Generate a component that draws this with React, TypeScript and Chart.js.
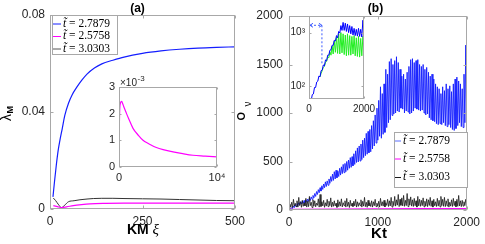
import React, { useEffect, useRef } from 'react';
import { Chart, registerables } from 'chart.js';
Chart.register(...registerables);

const W = 485;
const H = 244;

// ---------- Panel (a): lambda_M vs KM xi ----------
const aBlueX = [8, 12, 17, 22, 27, 33, 40, 50, 60, 72, 86, 100, 120, 140, 170, 200, 250, 300, 350, 400, 450, 500];
const aBlueY = [0.005, 0.011, 0.018, 0.024, 0.0284, 0.033, 0.0385, 0.0435, 0.047, 0.05, 0.053, 0.0555, 0.058, 0.0597, 0.0612, 0.0625, 0.064, 0.065, 0.0657, 0.0662, 0.0665, 0.0667];
const aBlackX = [9, 15, 22, 31, 40, 50, 65, 81, 100, 117, 140, 170, 200, 250, 300, 350, 400, 450, 500];
const aBlackY = [0.0045, 0.0035, 0.002, 0.0006, 0.0016, 0.003, 0.0034, 0.0038, 0.0041, 0.0043, 0.0044, 0.0044, 0.0043, 0.0042, 0.0041, 0.0039, 0.0037, 0.0035, 0.0034];
const aPinkX = [9, 20, 31, 45, 63, 85, 108, 150, 200, 300, 400, 500];
const aPinkY = [0.0014, 0.001, 0.0006, 0.0009, 0.0014, 0.0018, 0.0021, 0.0023, 0.0024, 0.0024, 0.0024, 0.0024];

// inset (a), y in units of 1e-3
const aInsetX = [0, 40, 80, 150, 272, 400, 550, 748, 1000, 1430, 2000, 2450, 3000, 3810, 4500, 5510, 6500, 7550, 8800, 10000];
const aInsetY = [0.63, 1.6, 2.2, 2.4, 2.46, 2.35, 2.2, 2.02, 1.8, 1.45, 1.18, 1.0, 0.88, 0.73, 0.65, 0.57, 0.5, 0.44, 0.41, 0.38];

// ---------- Panel (b): O_nu vs Kt ----------
const bStep = 20; // lows at 0,20,...; highs half a step later
const bBlueLow = [
  0, 8, 15, 25, 35, 45, 55, 62, 68, 74,
  80, 88, 98, 110, 125, 140, 160, 178, 195, 212,
  230, 242, 255, 275, 295, 305, 320, 332, 345, 360,
  375, 385, 395, 410, 430, 440, 455, 470, 490, 495,
  505, 520, 540, 560, 575, 590, 600, 630, 660, 690,
  720, 760, 740, 780, 800, 850, 900, 930, 975, 990,
  1000, 1020, 1010, 1050, 1040, 1000, 1020, 1010, 990, 1000,
  1020, 1050, 1040, 1030, 1020, 1030, 1000, 980, 990, 950,
  930, 920, 910, 890, 880, 890, 880, 900, 870, 860,
  880, 850, 830, 820, 840, 870, 900, 860, 850, 900,
  920,
];
const bBlueHigh = [
  12, 25, 40, 55, 65, 75, 85, 92, 98, 105,
  112, 122, 135, 150, 170, 190, 210, 230, 250, 268,
  290, 300, 320, 345, 370, 395, 410, 400, 430, 445,
  470, 480, 500, 515, 540, 550, 580, 610, 640, 660,
  680, 720, 740, 790, 810, 830, 870, 920, 980, 1050,
  1130, 1270, 1200, 1300, 1450, 1400, 1530, 1560, 1500, 1540,
  1580, 1520, 1450, 1380, 1400, 1350, 1420, 1480, 1550, 1560,
  1520, 1540, 1550, 1500, 1480, 1500, 1450, 1470, 1420, 1380,
  1400, 1350, 1300, 1270, 1250, 1200, 1270, 1230, 1300, 1250,
  1280, 1220, 1300, 1350, 1370, 1330, 1300, 1250, 1400, 1700,
];
const bBlackLow = [
  5, 30, 25, 40, 35, 30, 45, 28, 38, 42,
  30, 35, 45, 25, 40, 33, 48, 30, 36, 42,
  28, 40, 35, 45, 30, 38, 42, 27, 35, 40,
  32, 45, 30, 38, 26, 40, 35, 43, 30, 37,
  45, 30, 40, 35, 28, 42, 36, 30, 44, 35,
  38, 30, 45, 40, 32, 47, 36, 42, 30, 45,
  40, 50, 35, 48, 42, 38, 45, 35, 50, 40,
  36, 44, 30, 42, 38, 45, 33, 40, 35, 47,
  38, 30, 44, 36, 40, 32, 45, 38, 35, 42,
  30, 40, 36, 45, 33, 38, 42, 35, 40, 46,
  50,
];
const bBlackHigh = [
  60, 80, 110, 70, 95, 130, 85, 100, 75, 120,
  90, 140, 80, 105, 95, 70, 115, 160, 85, 100,
  75, 110, 90, 125, 80, 95, 70, 105, 85, 115,
  75, 95, 120, 80, 100, 70, 90, 110, 85, 75,
  105, 90, 130, 80, 100, 75, 95, 85, 110, 70,
  90, 120, 85, 100, 75, 110, 95, 130, 90, 140,
  105, 160, 110, 125, 150, 100, 170, 115, 135, 105,
  120, 95, 140, 110, 100, 125, 90, 115, 105, 130,
  95, 110, 85, 120, 100, 140, 110, 130, 95, 115,
  80, 105, 120, 90, 110, 150, 95, 100, 85, 110,
];
const bPinkX = [0, 500, 1000, 1500, 2000];
const bPinkY = [5, 8, 10, 12, 14];

// inset (b), log scale
const bInStep = 80;
const bInBlueLow = [45, 55, 72, 95, 125, 150, 200, 240, 300, 380, 480, 580, 700, 800, 980, 1100, 1100, 1050, 1000, 950, 900, 880, 860, 850, 830, 900];
const bInBlueHigh = [55, 70, 95, 120, 155, 195, 250, 310, 380, 470, 580, 720, 880, 1050, 1350, 1550, 1500, 1450, 1350, 1300, 1200, 1150, 1200, 1150, 1700];
const bInGreenStart = 400;
const bInGreenLow = [150, 195, 235, 290, 340, 380, 400, 430, 410, 400, 420, 390, 370, 380, 380, 400, 370, 360, 350, 370, 420];
const bInGreenHigh = [175, 225, 280, 350, 440, 560, 700, 820, 950, 1000, 950, 900, 950, 880, 850, 880, 800, 850, 780, 850];
// dashed double arrow annotation (data units of the inset)
const arrowY = 1370;
const arrowX0 = 0;
const arrowX1 = 470;
const arrowYEnd = 250;

const legendLabels = ['2.7879', '2.5758', '3.0303'];

const BLUE = 'rgb(20,30,255)';
const PINK = '#ff00ff';
const BLACK = '#1a1a1a';
const GREEN = '#22ee22';
const FRAME = '#a8a8a8';
const SANS = '"Liberation Sans", Arial, sans-serif';
const SERIF = '"Liberation Serif", "Times New Roman", serif';

Chart.defaults.font.family = SANS;
Chart.defaults.color = '#262626';

type Pt = { x: number; y: number };
const zip = (xs: number[], ys: number[]): Pt[] => xs.map((x, i) => ({ x, y: ys[i] }));
const interleave = (x0: number, step: number, low: number[], high: number[]): Pt[] => {
  const pts: Pt[] = [];
  low.forEach((v, i) => {
    pts.push({ x: x0 + i * step, y: v });
    if (i < high.length) pts.push({ x: x0 + i * step + step / 2, y: high[i] });
  });
  return pts;
};

const ds = (data: Pt[], color: string, width = 1, smooth = false) => ({
  data,
  borderColor: color,
  backgroundColor: color,
  borderWidth: width,
  pointRadius: 0,
  fill: false,
  tension: 0,
  cubicInterpolationMode: smooth ? 'monotone' : 'default',
});

const framePlugin = (tickLen: number, fillBg: boolean) => ({
  id: 'frame',
  beforeDatasetsDraw(chart: any) {
    if (!fillBg) return;
    const { left, top, right, bottom } = chart.chartArea;
    const ctx = chart.ctx;
    ctx.save();
    ctx.fillStyle = '#fff';
    ctx.fillRect(left, top, right - left, bottom - top);
    ctx.restore();
  },
  afterDatasetsDraw(chart: any) {
    const { left, top, right, bottom } = chart.chartArea;
    const ctx = chart.ctx;
    const l = Math.round(left) + 0.5;
    const r = Math.round(right) - 0.5;
    const t = Math.round(top) + 0.5;
    const b = Math.round(bottom) - 0.5;
    ctx.save();
    ctx.strokeStyle = FRAME;
    ctx.lineWidth = 1;
    ctx.strokeRect(l, t, r - l, b - t);
    ctx.beginPath();
    const sx = chart.scales.x;
    sx.ticks.forEach((tk: any) => {
      const px = Math.round(sx.getPixelForValue(tk.value)) + 0.5;
      ctx.moveTo(px, b);
      ctx.lineTo(px, b - tickLen);
      ctx.moveTo(px, t);
      ctx.lineTo(px, t + tickLen);
    });
    const sy = chart.scales.y;
    sy.ticks.forEach((tk: any) => {
      const py = Math.round(sy.getPixelForValue(tk.value)) + 0.5;
      ctx.moveTo(l, py);
      ctx.lineTo(l + tickLen, py);
      ctx.moveTo(r, py);
      ctx.lineTo(r - tickLen, py);
    });
    ctx.stroke();
    ctx.restore();
  },
});

function drawLegend(
  ctx: CanvasRenderingContext2D,
  box: [number, number, number, number],
  rows: number[],
  lx0: number,
  lx1: number,
  tx: number,
  colors: string[],
  fs: number
) {
  ctx.save();
  const [x0, y0, x1, y1] = box;
  ctx.fillStyle = '#fff';
  ctx.fillRect(x0, y0, x1 - x0, y1 - y0);
  ctx.strokeStyle = FRAME;
  ctx.lineWidth = 1;
  ctx.strokeRect(x0 + 0.5, y0 + 0.5, x1 - x0 - 1, y1 - y0 - 1);
  rows.forEach((ry, i) => {
    ctx.strokeStyle = colors[i];
    ctx.lineWidth = 1;
    ctx.beginPath();
    ctx.moveTo(lx0, ry + 0.5);
    ctx.lineTo(lx1, ry + 0.5);
    ctx.stroke();
    ctx.fillStyle = '#000';
    ctx.textBaseline = 'middle';
    ctx.textAlign = 'left';
    ctx.font = `italic ${fs}px ${SERIF}`;
    ctx.fillText('t\u0303', tx, ry);
    const w = ctx.measureText('t\u0303').width;
    ctx.font = `${fs}px ${SERIF}`;
    ctx.fillText(' = ' + legendLabels[i], tx + w, ry);
  });
  ctx.restore();
}

function build(canvas: HTMLCanvasElement, cfg: any) {
  const [L, T, R, B] = cfg.area;
  return new Chart(canvas, {
    type: 'line',
    data: { datasets: cfg.datasets },
    options: {
      responsive: false,
      animation: false,
      devicePixelRatio: 1,
      layout: { padding: { left: L - cfg.yW, top: T, right: W - R, bottom: H - B - cfg.xH } },
      plugins: { legend: { display: false }, tooltip: { enabled: false }, title: { display: false } },
      scales: {
        x: {
          type: 'linear',
          position: 'bottom',
          min: cfg.x.min,
          max: cfg.x.max,
          grid: { display: false, drawTicks: false },
          border: { display: false },
          ticks: {
            stepSize: cfg.x.step,
            maxRotation: 0,
            autoSkip: false,
            padding: cfg.xPad,
            font: { size: cfg.fs },
            callback: cfg.x.cb,
          },
          afterFit: (s: any) => {
            s.height = cfg.xH;
          },
        },
        y: {
          type: cfg.y.type || 'linear',
          position: 'left',
          min: cfg.y.min,
          max: cfg.y.max,
          grid: { display: false, drawTicks: false },
          border: { display: false },
          ticks: {
            stepSize: cfg.y.step,
            autoSkip: false,
            padding: cfg.yPad,
            font: { size: cfg.fs },
            callback: cfg.y.cb,
          },
          afterBuildTicks: cfg.y.ticks
            ? (s: any) => {
                s.ticks = cfg.y.ticks.map((v: number) => ({ value: v }));
              }
            : undefined,
          afterFit: (s: any) => {
            s.width = cfg.yW;
          },
        },
      },
    } as any,
    plugins: [
      framePlugin(cfg.tickLen, cfg.fillBg),
      { id: 'deco', afterDraw: (c: any) => cfg.draw && cfg.draw(c.ctx, c) },
    ],
  });
}

function drawMainA(ctx: CanvasRenderingContext2D) {
  ctx.save();
  ctx.fillStyle = '#000';
  ctx.textAlign = 'center';
  ctx.textBaseline = 'alphabetic';
  ctx.font = `bold 12px ${SANS}`;
  ctx.fillText('(a)', 137.5, 12);
  // x label: KM xi
  ctx.font = `bold 14px ${SANS}`;
  const w1 = ctx.measureText('KM ').width;
  ctx.font = `italic 15px ${SERIF}`;
  const w2 = ctx.measureText('\u03be').width;
  const sx = 143 - (w1 + w2) / 2;
  ctx.textAlign = 'left';
  ctx.font = `bold 14px ${SANS}`;
  ctx.fillText('KM ', sx, 234);
  ctx.font = `italic 15px ${SERIF}`;
  ctx.fillText('\u03be', sx + w1, 234);
  // y label: lambda_M
  ctx.translate(10.5, 121);
  ctx.rotate(-Math.PI / 2);
  ctx.font = `14px ${SANS}`;
  ctx.fillText('\u03bb', 0, 0);
  const wl = ctx.measureText('\u03bb').width;
  ctx.font = `bold 9px ${SANS}`;
  ctx.fillText('M', wl + 0.5, 2.5);
  ctx.restore();
  drawLegend(ctx, [52, 15, 118, 55], [23.5, 36, 48.5], 53, 61, 63, [BLUE, PINK, '#555'], 11.5);
}

function drawMainB(ctx: CanvasRenderingContext2D) {
  ctx.save();
  ctx.fillStyle = '#000';
  ctx.textAlign = 'center';
  ctx.textBaseline = 'alphabetic';
  ctx.font = `bold 12px ${SANS}`;
  ctx.fillText('(b)', 375.5, 12);
  ctx.font = `bold 15px ${SANS}`;
  ctx.fillText('Kt', 379, 238);
  ctx.textAlign = 'left';
  ctx.translate(244.5, 120.5);
  ctx.rotate(-Math.PI / 2);
  ctx.font = `bold 11px ${SANS}`;
  ctx.fillText('O', 0, 0);
  ctx.font = `10px ${SANS}`;
  ctx.fillText('\u03bd', 14, 6);
  ctx.restore();
  drawLegend(ctx, [394, 132, 468, 188], [140.5, 158.5, 177], 395, 401, 403, ['rgb(90,110,255)', PINK, BLACK], 11.5);
}

function drawInsetA(ctx: CanvasRenderingContext2D) {
  ctx.save();
  ctx.fillStyle = '#262626';
  ctx.textAlign = 'left';
  ctx.textBaseline = 'alphabetic';
  ctx.font = `10px ${SANS}`;
  ctx.fillText('\u00d710', 120, 86);
  const w = ctx.measureText('\u00d710').width;
  ctx.font = `8px ${SANS}`;
  ctx.fillText('-3', 120 + w + 0.5, 81);
  ctx.restore();
}

function drawInsetB(ctx: CanvasRenderingContext2D, chart: any) {
  const sx = chart.scales.x;
  const sy = chart.scales.y;
  const x0 = sx.getPixelForValue(arrowX0) + 1;
  const x1 = sx.getPixelForValue(arrowX1);
  const y = sy.getPixelForValue(arrowY);
  const yEnd = sy.getPixelForValue(arrowYEnd);
  ctx.save();
  ctx.strokeStyle = 'rgb(60,90,255)';
  ctx.lineWidth = 1;
  ctx.setLineDash([2, 2]);
  ctx.beginPath();
  ctx.moveTo(x0, y);
  ctx.lineTo(x1, y);
  ctx.moveTo(x1, y);
  ctx.lineTo(x1, yEnd);
  ctx.stroke();
  ctx.setLineDash([]);
  ctx.beginPath();
  ctx.moveTo(x0, y);
  ctx.lineTo(x0 + 3, y - 2);
  ctx.moveTo(x0, y);
  ctx.lineTo(x0 + 3, y + 2);
  ctx.moveTo(x1, y);
  ctx.lineTo(x1 - 3, y - 2);
  ctx.moveTo(x1, y);
  ctx.lineTo(x1 - 3, y + 2);
  ctx.stroke();
  ctx.restore();
}

export default function App() {
  const r1 = useRef<HTMLCanvasElement>(null);
  const r2 = useRef<HTMLCanvasElement>(null);
  const r3 = useRef<HTMLCanvasElement>(null);
  const r4 = useRef<HTMLCanvasElement>(null);

  useEffect(() => {
    const charts: Chart[] = [];
    charts.push(
      build(r1.current!, {
        area: [50, 14.5, 235, 209],
        yW: 40,
        xH: 22,
        yPad: 5,
        xPad: 5,
        fs: 12,
        tickLen: 3,
        fillBg: false,
        x: { min: 0, max: 500, step: 250 },
        y: { min: 0, max: 0.08, step: 0.04 },
        datasets: [
          ds(zip(aBlueX, aBlueY), BLUE, 1.2, true),
          ds(zip(aPinkX, aPinkY), PINK, 1.2, true),
          ds(zip(aBlackX, aBlackY), '#333', 1, true),
        ],
        draw: drawMainA,
      })
    );
    charts.push(
      build(r2.current!, {
        area: [119, 87, 217, 167],
        yW: 20,
        xH: 20,
        yPad: 4,
        xPad: 4,
        fs: 11,
        tickLen: 2,
        fillBg: true,
        x: { min: 0, max: 10000, step: 10000, cb: (v: number) => (v === 0 ? '0' : '10\u2074') },
        y: { min: 0, max: 3, step: 1 },
        datasets: [ds(zip(aInsetX, aInsetY), PINK, 1.2, true)],
        draw: drawInsetA,
      })
    );
    charts.push(
      build(r3.current!, {
        area: [289, 16, 469, 210],
        yW: 40,
        xH: 22,
        yPad: 6,
        xPad: 5,
        fs: 12,
        tickLen: 3,
        fillBg: false,
        x: { min: 0, max: 2000, step: 1000 },
        y: { min: 0, max: 2000, step: 500 },
        datasets: [
          ds(zip(bPinkX, bPinkY), PINK, 1.5),
          ds(interleave(0, bStep, bBlackLow, bBlackHigh), BLACK, 0.8),
          ds(interleave(0, bStep, bBlueLow, bBlueHigh), BLUE, 0.9),
        ],
        draw: drawMainB,
      })
    );
    charts.push(
      build(r4.current!, {
        area: [309, 16, 364, 99],
        yW: 25,
        xH: 16,
        yPad: 4,
        xPad: 4,
        fs: 10,
        tickLen: 2,
        fillBg: true,
        x: { min: 0, max: 2000, step: 2000 },
        y: {
          type: 'logarithmic',
          min: 58,
          max: 2040,
          ticks: [100, 1000],
          cb: (v: number) => (v === 100 ? '10\u00b2' : v === 1000 ? '10\u00b3' : ''),
        },
        datasets: [
          ds(interleave(0, bInStep, bInBlueLow, bInBlueHigh), 'rgb(0,0,255)', 1),
          ds(interleave(bInGreenStart, bInStep, bInGreenLow, bInGreenHigh), GREEN, 1),
        ],
        draw: drawInsetB,
      })
    );
    return () => charts.forEach((c) => c.destroy());
  }, []);

  const cs: React.CSSProperties = { position: 'absolute', left: 0, top: 0, width: W, height: H };
  return (
    <div style={{ position: 'fixed', left: 0, top: 0, width: W, height: H, background: '#fff', overflow: 'hidden' }}>
      <canvas ref={r1} width={W} height={H} style={cs} />
      <canvas ref={r2} width={W} height={H} style={cs} />
      <canvas ref={r3} width={W} height={H} style={cs} />
      <canvas ref={r4} width={W} height={H} style={cs} />
    </div>
  );
}
